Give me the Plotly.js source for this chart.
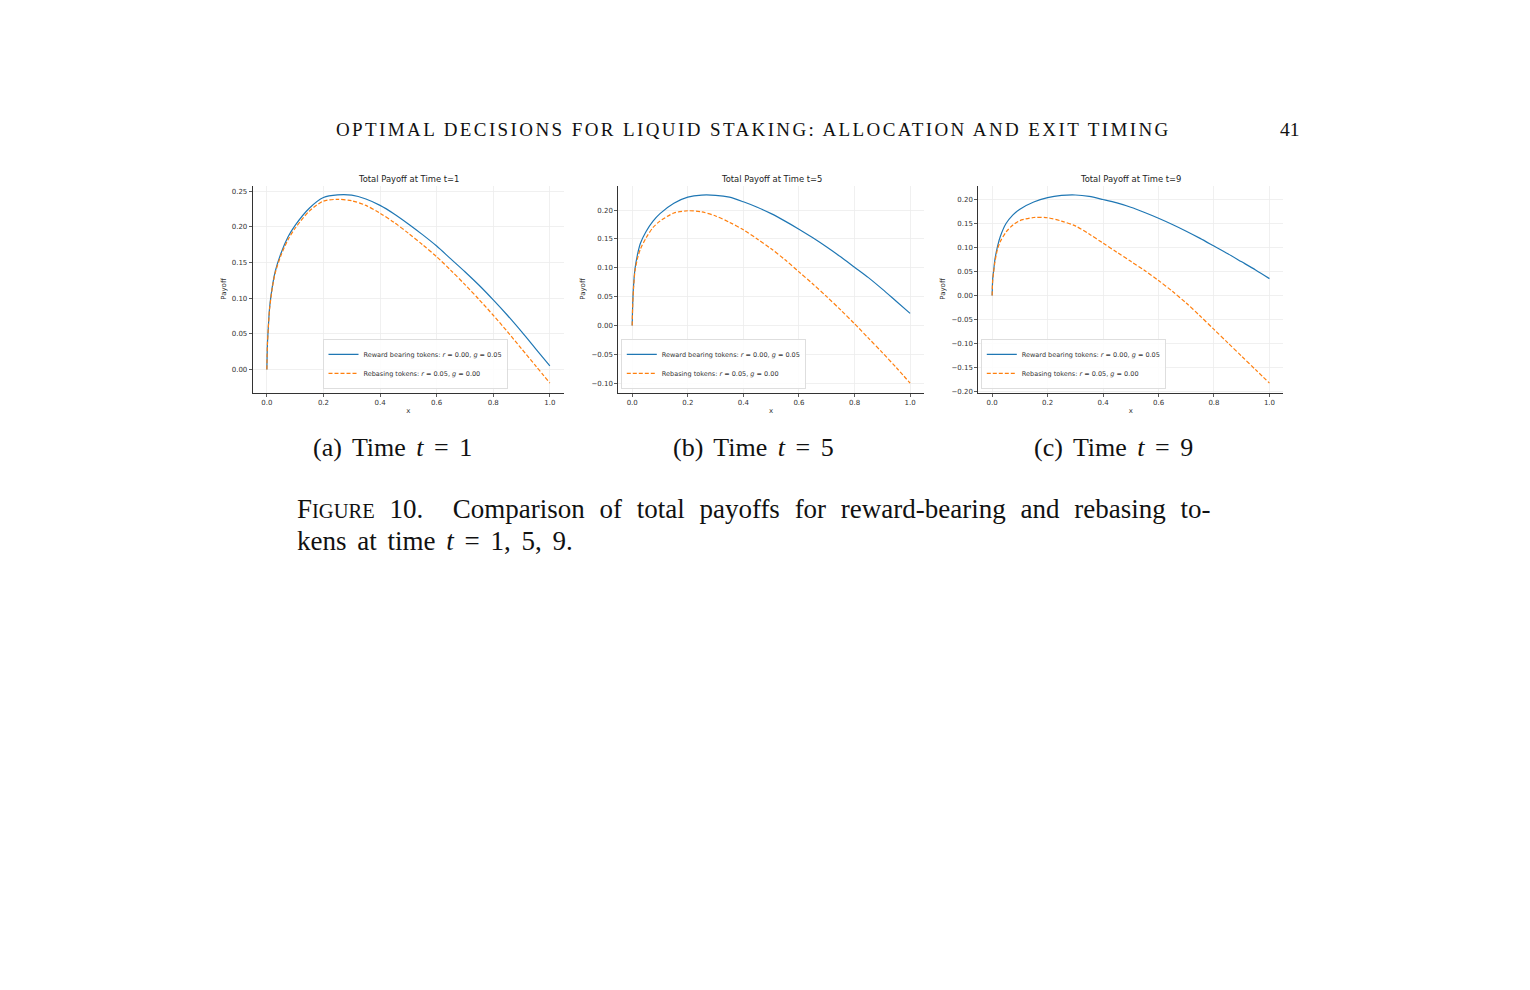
<!DOCTYPE html>
<html>
<head>
<meta charset="utf-8">
<script src="https://cdn.plot.ly/plotly-3.0.1.min.js"></script>
<style>
  html, body { margin: 0; padding: 0; background: #fff; }
  #page { width: 1530px; height: 990px; }
</style>
</head>
<body>
<div id="page"></div>
<script>
// x grid shared by every curve
let xs = [0, 0.002, 0.005, 0.01, 0.02, 0.03, 0.05, 0.075, 0.1, 0.15, 0.2, 0.25, 0.3, 0.35,
          0.4, 0.45, 0.5, 0.55, 0.6, 0.65, 0.7, 0.75, 0.8, 0.85, 0.9, 0.95, 1.0]

// payoffs, t = 1
let reward_t1 = [0, 0.035, 0.058, 0.088, 0.118, 0.138, 0.163, 0.186, 0.202, 0.226, 0.241, 0.2447, 0.2443, 0.239,
                 0.230, 0.218, 0.204, 0.189, 0.173, 0.155, 0.137, 0.118, 0.0975, 0.076, 0.053, 0.029, 0.005]
let rebase_t1 = [0, 0.035, 0.057, 0.086, 0.116, 0.136, 0.160, 0.182, 0.198, 0.222, 0.236, 0.2385, 0.2365, 0.230,
                 0.219, 0.206, 0.191, 0.175, 0.158, 0.139, 0.119, 0.098, 0.076, 0.053, 0.029, 0.005, -0.019]
// t = 5
let reward_t5 = [0, 0.04, 0.07, 0.098, 0.125, 0.143, 0.163, 0.181, 0.194, 0.212, 0.2225, 0.2262, 0.2258, 0.2225,
                 0.2145, 0.205, 0.194, 0.181, 0.167, 0.152, 0.136, 0.119, 0.101, 0.083, 0.063, 0.042, 0.021]
let rebase_t5 = [0, 0.038, 0.065, 0.094, 0.118, 0.133, 0.152, 0.170, 0.181, 0.195, 0.199, 0.197, 0.190, 0.179,
                 0.166, 0.150, 0.133, 0.114, 0.093, 0.072, 0.050, 0.027, 0.003, -0.022, -0.047, -0.073, -0.100]
// t = 9
let reward_t9 = [0, 0.035, 0.05, 0.075, 0.104, 0.124, 0.150, 0.168, 0.180, 0.195, 0.204, 0.2085, 0.2095, 0.2065,
                 0.200, 0.193, 0.184, 0.173, 0.161, 0.148, 0.134, 0.119, 0.103, 0.087, 0.070, 0.053, 0.035]
let rebase_t9 = [0, 0.032, 0.047, 0.07, 0.098, 0.113, 0.132, 0.147, 0.156, 0.1625, 0.162, 0.155, 0.145, 0.128,
                 0.109, 0.090, 0.071, 0.052, 0.031, 0.0085, -0.016, -0.043, -0.071, -0.099, -0.127, -0.155, -0.183]

let times = [1, 5, 9]
let letters = ['a', 'b', 'c']
let reward_name = 'Reward bearing tokens: <i>r</i> = 0.00, <i>g</i> = 0.05'
let rebase_name = 'Rebasing tokens: <i>r</i> = 0.05, <i>g</i> = 0.00'
let x_ticks = [0, 0.2, 0.4, 0.6, 0.8, 1.0]

let panels = [
  {reward: reward_t1, rebase: rebase_t1, yrange: [-0.0323, 0.2579], left: 252.7, right: 564, legx: 322.7, cap: 393},
  {reward: reward_t5, rebase: rebase_t5, yrange: [-0.1163, 0.2428], left: 618.3, right: 924, legx: 621, cap: 753},
  {reward: reward_t9, rebase: rebase_t9, yrange: [-0.2026, 0.2293], left: 978.3, right: 1283.3, legx: 981, cap: 1113}
]

const W = 1530, H = 990
const px = v => v / W
const py = v => 1 - v / H
const tickFont = {family: 'DejaVu Sans', size: 7, color: '#333'}
const serif = 'Liberation Serif'

let traces = []
let annotations = []
let layout = {
  width: W, height: H,
  margin: {l: 0, r: 0, t: 0, b: 0},
  paper_bgcolor: '#fff', plot_bgcolor: '#fff',
  font: {family: 'DejaVu Sans', color: '#333'}
}

// text placed by its centre, in page pixels
let note = function(text, x, y, font, xanchor) {
  return {
    text: text, x: px(x), y: py(y), xref: 'paper', yref: 'paper',
    xanchor: xanchor || 'center', yanchor: 'middle', showarrow: false, font: font
  }
}

panels.forEach(function(p, i) {
  let n = i === 0 ? '' : String(i + 1)
  let leg = 'legend' + n
  traces.push({
    x: xs, y: p.reward, xaxis: 'x' + n, yaxis: 'y' + n, legend: leg,
    type: 'scatter', mode: 'lines', name: reward_name,
    line: {color: '#1f77b4', width: 1.2, shape: 'spline', smoothing: 0.8}
  })
  traces.push({
    x: xs, y: p.rebase, xaxis: 'x' + n, yaxis: 'y' + n, legend: leg,
    type: 'scatter', mode: 'lines', name: rebase_name,
    line: {color: '#ff7f0e', width: 1.2, dash: '4px,2px', shape: 'spline', smoothing: 0.8}
  })

  layout['xaxis' + n] = {
    domain: [px(p.left), px(p.right)], anchor: 'y' + n,
    range: [-0.05, 1.05], tickvals: x_ticks, tickformat: '.1f',
    showline: true, linecolor: '#333', linewidth: 1,
    ticks: 'outside', ticklen: 3, tickcolor: '#333', tickwidth: 0.8,
    showgrid: true, gridcolor: '#ececec', gridwidth: 0.8, zeroline: false,
    tickfont: tickFont, title: {text: 'x', font: {size: 7, color: '#333'}, standoff: 2}
  }
  layout['yaxis' + n] = {
    domain: [py(392.5), py(185.5)], anchor: 'x' + n,
    range: p.yrange, dtick: 0.05, tick0: 0, tickformat: '.2f',
    showline: true, linecolor: '#333', linewidth: 1,
    ticks: 'outside', ticklen: 3, tickcolor: '#333', tickwidth: 0.8,
    showgrid: true, gridcolor: '#ececec', gridwidth: 0.8, zeroline: false,
    tickfont: tickFont, title: {text: 'Payoff', font: {size: 7, color: '#333'}, standoff: 4}
  }
  layout[leg] = {
    x: px(p.legx), y: py(389), xanchor: 'left', yanchor: 'bottom',
    bgcolor: 'rgba(255,255,255,0.85)', bordercolor: '#d6d6d6', borderwidth: 0.8,
    font: {family: 'DejaVu Sans', size: 6.5, color: '#333'},
    itemwidth: 30, tracegroupgap: 0
  }

  annotations.push(note('Total Payoff at Time t=' + times[i], (p.left + p.right) / 2, 179,
    {family: 'DejaVu Sans', size: 8.4, color: '#222'}))
  annotations.push(note('<span style="word-spacing:4px">(' + letters[i] + ') Time <i>t</i> = ' + times[i] + '</span>',
    p.cap, 447, {family: serif, size: 26, color: '#111'}))
})

annotations.push(note('<span style="letter-spacing:2.4px">OPTIMAL DECISIONS FOR LIQUID STAKING: ALLOCATION AND EXIT TIMING</span>',
  753, 130, {family: serif, size: 19, color: '#111'}))
annotations.push(note('41', 1290, 130, {family: serif, size: 19.5, color: '#111'}))
annotations.push(note('<span style="word-spacing:8px">F<span style="font-size:20.5px">IGURE</span> 10.  Comparison of total payoffs for reward-bearing and rebasing to-</span>',
  295, 509, {family: serif, size: 27, color: '#111'}, 'left'))
annotations.push(note('<span style="word-spacing:4px">kens at time <i>t</i> = 1, 5, 9.</span>',
  295, 541, {family: serif, size: 27, color: '#111'}, 'left'))
layout.annotations = annotations

Plotly.newPlot('page', traces, layout, {staticPlot: true})
</script>
</body>
</html>
